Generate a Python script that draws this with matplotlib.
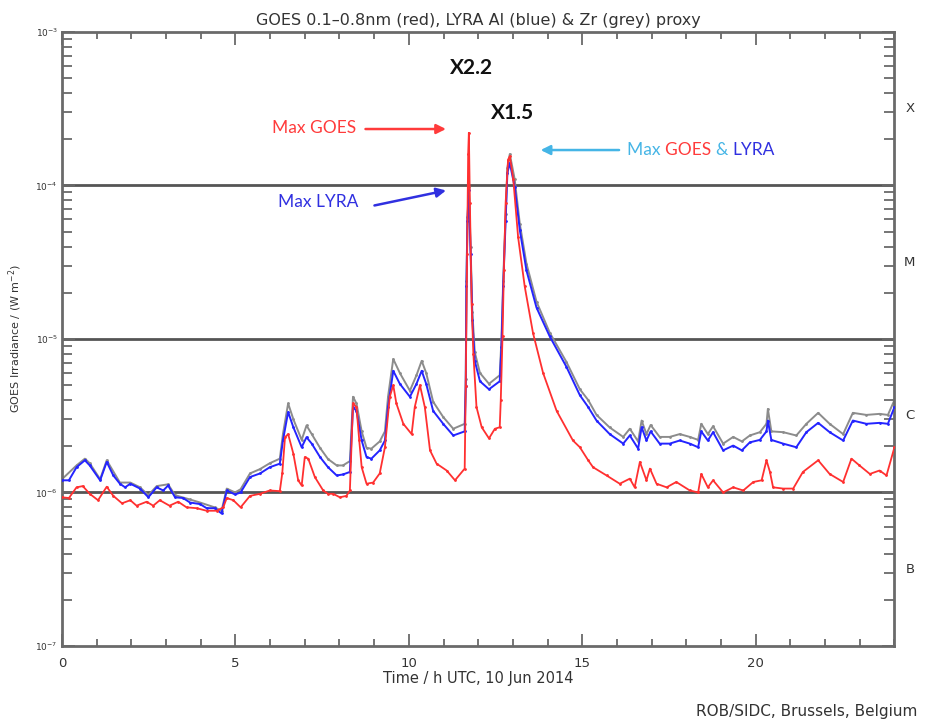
import numpy as np
import matplotlib
matplotlib.use('Agg')
import matplotlib.pyplot as plt
from matplotlib.ticker import LogLocator, MultipleLocator, NullFormatter

# GOES 0.1-0.8 nm (red), hours UTC and W m^-2
t_goes = [0, 0.2, 0.42, 0.6, 0.8, 1.04, 1.29, 1.48, 1.73, 1.97, 2.15, 2.44, 2.63,
          2.82, 3.1, 3.35, 3.59, 3.88, 4.17, 4.46, 4.65, 4.75, 4.94, 5.15, 5.42,
          5.71, 5.99, 6.28, 6.35, 6.43, 6.52, 6.67, 6.81, 6.91, 7.0, 7.1, 7.29,
          7.53, 7.67, 7.82, 8.01, 8.2, 8.3, 8.39, 8.49, 8.57, 8.64, 8.78, 8.97,
          9.16, 9.31, 9.45, 9.55, 9.64, 9.84, 10.08, 10.17, 10.32, 10.46, 10.61,
          10.8, 11.09, 11.33, 11.61, 11.64, 11.68, 11.71, 11.73, 11.76, 11.81,
          11.86, 11.95, 12.1, 12.31, 12.48, 12.62, 12.65, 12.7, 12.74, 12.79,
          12.86, 12.91, 13.01, 13.15, 13.34, 13.58, 13.87, 14.26, 14.73, 14.93,
          15.17, 15.31, 15.7, 16.08, 16.37, 16.51, 16.66, 16.85, 16.95, 17.14,
          17.43, 17.71, 18.1, 18.34, 18.43, 18.62, 18.77, 19.06, 19.35, 19.64,
          19.93, 20.17, 20.31, 20.41, 20.5, 20.79, 21.08, 21.36, 21.8, 22.13,
          22.52, 22.76, 22.99, 23.29, 23.57, 23.77, 24.0]
goes = [0.93e-6, 0.92e-6, 1.08e-6, 1.1e-6, 0.98e-6, 0.89e-6, 1.09e-6, 0.95e-6,
        0.85e-6, 0.89e-6, 0.82e-6, 0.87e-6, 0.82e-6, 0.89e-6, 0.82e-6, 0.87e-6,
        0.8e-6, 0.79e-6, 0.76e-6, 0.76e-6, 0.8e-6, 0.92e-6, 0.89e-6, 0.8e-6,
        0.95e-6, 0.98e-6, 1.03e-6, 1.02e-6, 1.33e-6, 2.29e-6, 2.4e-6, 1.79e-6,
        1.2e-6, 1.11e-6, 1.7e-6, 1.66e-6, 1.26e-6, 1.03e-6, 0.98e-6, 0.98e-6,
        0.93e-6, 0.95e-6, 1.03e-6, 3.8e-6, 3.6e-6, 2.18e-6, 1.46e-6, 1.14e-6,
        1.16e-6, 1.33e-6, 1.97e-6, 4.2e-6, 5.0e-6, 3.8e-6, 2.8e-6, 2.4e-6,
        3.6e-6, 5.0e-6, 3.6e-6, 1.88e-6, 1.54e-6, 1.39e-6, 1.2e-6, 1.43e-6,
        4.9e-6, 3.6e-5, 1.6e-4, 2.2e-4, 7.7e-5, 1.7e-5, 8.0e-6, 3.6e-6, 2.66e-6,
        2.25e-6, 2.6e-6, 2.66e-6, 4.0e-6, 1.04e-5, 2.8e-5, 7.7e-5, 1.47e-4,
        1.55e-4, 1.1e-4, 4.6e-5, 2.2e-5, 1.09e-5, 6.0e-6, 3.4e-6, 2.18e-6,
        1.97e-6, 1.62e-6, 1.46e-6, 1.29e-6, 1.14e-6, 1.23e-6, 1.08e-6, 1.58e-6,
        1.2e-6, 1.43e-6, 1.14e-6, 1.08e-6, 1.17e-6, 1.03e-6, 1.0e-6, 1.32e-6,
        1.08e-6, 1.2e-6, 1.0e-6, 1.08e-6, 1.03e-6, 1.17e-6, 1.2e-6, 1.62e-6,
        1.36e-6, 1.08e-6, 1.06e-6, 1.06e-6, 1.36e-6, 1.62e-6, 1.32e-6, 1.17e-6,
        1.66e-6, 1.5e-6, 1.32e-6, 1.39e-6, 1.29e-6, 1.97e-6]

# LYRA Al proxy (blue)
t_al = [0, 0.2, 0.42, 0.66, 0.8, 1.1, 1.29, 1.48, 1.67, 1.82, 1.97, 2.25, 2.49,
        2.73, 2.92, 3.06, 3.26, 3.49, 3.69, 3.98, 4.17, 4.4, 4.6, 4.75, 4.99,
        5.15, 5.42, 5.71, 5.99, 6.28, 6.37, 6.52, 6.67, 6.91, 7.05, 7.2, 7.44,
        7.67, 7.92, 8.1, 8.3, 8.39, 8.49, 8.64, 8.78, 8.92, 9.16, 9.31, 9.4,
        9.55, 9.74, 10.03, 10.22, 10.37, 10.5, 10.7, 10.99, 11.28, 11.61, 11.64,
        11.66, 11.69, 11.73, 11.78, 11.83, 11.9, 12.05, 12.31, 12.62, 12.67,
        12.72, 12.79, 12.84, 12.91, 13.05, 13.2, 13.39, 13.68, 14.06, 14.54,
        14.93, 15.17, 15.41, 15.79, 16.18, 16.37, 16.61, 16.71, 16.85, 16.97,
        17.23, 17.52, 17.81, 18.1, 18.34, 18.43, 18.62, 18.77, 19.06, 19.35,
        19.6, 19.83, 20.12, 20.31, 20.35, 20.45, 20.79, 21.17, 21.46, 21.8,
        22.13, 22.52, 22.8, 23.19, 23.57, 23.81, 24.0]
al = [1.2e-6, 1.2e-6, 1.46e-6, 1.62e-6, 1.5e-6, 1.2e-6, 1.58e-6, 1.29e-6,
      1.14e-6, 1.08e-6, 1.14e-6, 1.06e-6, 0.93e-6, 1.08e-6, 1.03e-6, 1.11e-6,
      0.93e-6, 0.92e-6, 0.86e-6, 0.84e-6, 0.79e-6, 0.79e-6, 0.73e-6, 1.03e-6,
      0.97e-6, 1.0e-6, 1.26e-6, 1.33e-6, 1.46e-6, 1.54e-6, 2.18e-6, 3.34e-6,
      2.66e-6, 1.97e-6, 2.29e-6, 2.08e-6, 1.7e-6, 1.46e-6, 1.29e-6, 1.31e-6,
      1.36e-6, 3.6e-6, 3.4e-6, 2.18e-6, 1.7e-6, 1.66e-6, 1.88e-6, 2.18e-6,
      3.6e-6, 6.2e-6, 5.1e-6, 4.2e-6, 5.1e-6, 6.2e-6, 5.1e-6, 3.4e-6, 2.8e-6,
      2.35e-6, 2.5e-6, 4.9e-6, 2.2e-5, 5.9e-5, 9.3e-5, 3.6e-5, 1.33e-5, 7.2e-6,
      5.3e-6, 4.7e-6, 5.3e-6, 8.9e-6, 2.2e-5, 5.9e-5, 1.2e-4, 1.4e-4, 9.8e-5,
      5.1e-5, 2.8e-5, 1.6e-5, 1.04e-5, 6.6e-6, 4.3e-6, 3.6e-6, 2.94e-6, 2.4e-6,
      2.08e-6, 2.35e-6, 1.93e-6, 2.66e-6, 2.18e-6, 2.5e-6, 2.08e-6, 2.08e-6,
      2.18e-6, 2.08e-6, 1.97e-6, 2.5e-6, 2.18e-6, 2.47e-6, 1.88e-6, 2.02e-6,
      1.88e-6, 2.12e-6, 2.2e-6, 2.5e-6, 2.94e-6, 2.2e-6, 2.08e-6, 1.97e-6,
      2.47e-6, 2.84e-6, 2.47e-6, 2.18e-6, 2.94e-6, 2.8e-6, 2.84e-6, 2.8e-6,
      3.6e-6]

# LYRA Zr proxy (grey)
t_zr = [0, 0.42, 0.66, 0.8, 1.1, 1.29, 1.67, 1.97, 2.25, 2.49, 2.73, 3.06, 3.26,
        3.69, 3.98, 4.4, 4.6, 4.75, 4.99, 5.15, 5.42, 5.71, 5.99, 6.28, 6.37,
        6.52, 6.67, 6.91, 7.05, 7.2, 7.44, 7.67, 7.92, 8.1, 8.3, 8.39, 8.49,
        8.64, 8.78, 8.92, 9.16, 9.31, 9.4, 9.55, 9.74, 10.03, 10.22, 10.37,
        10.5, 10.7, 10.99, 11.28, 11.61, 11.64, 11.66, 11.69, 11.73, 11.78,
        11.83, 11.9, 12.05, 12.31, 12.62, 12.67, 12.72, 12.79, 12.84, 12.91,
        13.05, 13.2, 13.39, 13.68, 14.06, 14.54, 14.93, 15.17, 15.41, 15.79,
        16.18, 16.37, 16.61, 16.71, 16.85, 16.97, 17.23, 17.52, 17.81, 18.1,
        18.34, 18.43, 18.62, 18.77, 19.06, 19.35, 19.6, 19.83, 20.12, 20.31,
        20.35, 20.45, 20.79, 21.17, 21.46, 21.8, 22.13, 22.52, 22.8, 23.19,
        23.57, 23.81, 24.0]
zr = [1.22e-6, 1.5e-6, 1.66e-6, 1.55e-6, 1.22e-6, 1.62e-6, 1.16e-6, 1.16e-6,
      1.08e-6, 0.96e-6, 1.1e-6, 1.13e-6, 0.96e-6, 0.9e-6, 0.86e-6, 0.8e-6,
      0.76e-6, 1.06e-6, 1.0e-6, 1.05e-6, 1.33e-6, 1.42e-6, 1.55e-6, 1.66e-6,
      2.4e-6, 3.8e-6, 3.0e-6, 2.2e-6, 2.73e-6, 2.4e-6, 1.95e-6, 1.65e-6,
      1.5e-6, 1.5e-6, 1.6e-6, 4.2e-6, 3.8e-6, 2.5e-6, 1.95e-6, 1.93e-6,
      2.15e-6, 2.5e-6, 4.2e-6, 7.4e-6, 6.0e-6, 4.6e-6, 5.8e-6, 7.2e-6, 6.0e-6,
      3.9e-6, 3.1e-6, 2.6e-6, 2.8e-6, 5.5e-6, 2.4e-5, 6.2e-5, 9.8e-5, 4.0e-5,
      1.5e-5, 8.2e-6, 6.0e-6, 5.1e-6, 5.8e-6, 1.0e-5, 2.4e-5, 6.5e-5, 1.3e-4,
      1.6e-4, 1.1e-4, 5.6e-5, 3.1e-5, 1.75e-5, 1.1e-5, 7.1e-6, 4.7e-6, 4.0e-6,
      3.2e-6, 2.65e-6, 2.3e-6, 2.6e-6, 2.15e-6, 2.94e-6, 2.4e-6, 2.75e-6,
      2.3e-6, 2.3e-6, 2.4e-6, 2.3e-6, 2.2e-6, 2.8e-6, 2.4e-6, 2.7e-6, 2.08e-6,
      2.3e-6, 2.15e-6, 2.35e-6, 2.47e-6, 2.8e-6, 3.5e-6, 2.5e-6, 2.47e-6,
      2.35e-6, 2.8e-6, 3.3e-6, 2.8e-6, 2.4e-6, 3.3e-6, 3.2e-6, 3.25e-6,
      3.2e-6, 4.0e-6]

class_levels = [1e-6, 1e-5, 1e-4]
class_names = ['B', 'C', 'M', 'X']
class_mid = [10**-6.5, 10**-5.5, 10**-4.5, 10**-3.5]

frame = '#6a6a6a'
txt = '#333333'
fig = plt.figure(figsize=(9.25, 7.25), dpi=100)
ax = fig.add_axes([0.067, 0.109, 0.9, 0.847])

ax.plot(t_zr, zr, color='#8c8c8c', lw=1.4, marker='.', ms=2, zorder=2)
ax.plot(t_al, al, color='#2424ff', lw=1.4, marker='.', ms=2, zorder=3)
ax.plot(t_goes, goes, color='#ff3030', lw=1.3, marker='.', ms=2, zorder=4)

for lev in class_levels:
    ax.axhline(lev, color='#555555', lw=2, zorder=1)

ax.set_yscale('log')
ax.set_ylim(1e-7, 1e-3)
ax.set_xlim(0, 24)
ax.xaxis.set_major_locator(MultipleLocator(5))
ax.xaxis.set_minor_locator(MultipleLocator(1))
ax.yaxis.set_major_locator(LogLocator(base=10, numticks=10))
ax.yaxis.set_minor_locator(LogLocator(base=10, subs=np.arange(2, 10), numticks=10))
ax.yaxis.set_minor_formatter(NullFormatter())
ax.tick_params(which='both', direction='in', top=True, right=True,
               color=frame, width=1.3)
ax.tick_params(which='major', length=9)
ax.tick_params(which='minor', length=7)
ax.tick_params(axis='x', which='minor', length=5)
ax.tick_params(axis='x', labelsize=9.5, pad=8, labelcolor=txt)
ax.tick_params(axis='y', labelsize=6.5, pad=3, labelcolor=txt)
for sp in ax.spines.values():
    sp.set_color(frame)
    sp.set_linewidth(2)

ax.set_title('GOES 0.1\u20130.8nm (red), LYRA Al (blue) & Zr (grey) proxy',
             fontsize=11.5, color=txt, pad=5)
ax.set_xlabel('Time / h UTC, 10 Jun 2014', fontsize=10.5, color=txt, labelpad=1)
ax.set_ylabel('GOES Irradiance / (W m$^{-2}$)', fontsize=8, color=txt, labelpad=8)

for name, v in zip(class_names, class_mid):
    ax.text(1.0185, v, name, transform=ax.get_yaxis_transform(), fontsize=9.5,
            color=txt, ha='center', va='center')

fig.text(0.992, 0.018, 'ROB/SIDC, Brussels, Belgium', fontsize=11,
         color=txt, ha='right', va='center')

# flare annotations
afont = 'Lato'
fig.text(0.510, 0.906, 'X2.2', fontsize=15, fontweight='bold', family=afont,
         ha='center', va='center', color='#111111')
fig.text(0.5546, 0.844, 'X1.5', fontsize=15, fontweight='bold', family=afont,
         ha='center', va='center', color='#111111')

red = '#ff3b3b'
blue = '#3030e0'
lblue = '#45b5e6'

ax.annotate('', xy=(11.15, 2.33e-4), xytext=(8.67, 2.33e-4),
            arrowprops=dict(arrowstyle='-|>', color=red, lw=1.8, mutation_scale=14))
fig.text(0.339, 0.823, 'Max GOES', fontsize=12.5, family=afont, color=red,
         ha='center', va='center')

ax.annotate('', xy=(11.15, 9.35e-5), xytext=(8.93, 7.34e-5),
            arrowprops=dict(arrowstyle='-|>', color=blue, lw=1.8, mutation_scale=14))
fig.text(0.344, 0.721, 'Max LYRA', fontsize=12.5, family=afont, color=blue,
         ha='center', va='center')

ax.annotate('', xy=(13.72, 1.7e-4), xytext=(16.14, 1.7e-4),
            arrowprops=dict(arrowstyle='-|>', color=lblue, lw=1.8, mutation_scale=14))
pieces = [('Max ', lblue), ('GOES ', red), ('& ', lblue), ('LYRA', blue)]
prev = fig.text(0.678, 0.793, pieces[0][0], fontsize=12.5, family=afont,
                color=pieces[0][1], ha='left', va='center')
for s, c in pieces[1:]:
    prev = ax.annotate(s, xy=(1, 0.5), xycoords=prev, fontsize=12.5, family=afont,
                       color=c, ha='left', va='center')

fig.savefig('out.png', dpi=100)
